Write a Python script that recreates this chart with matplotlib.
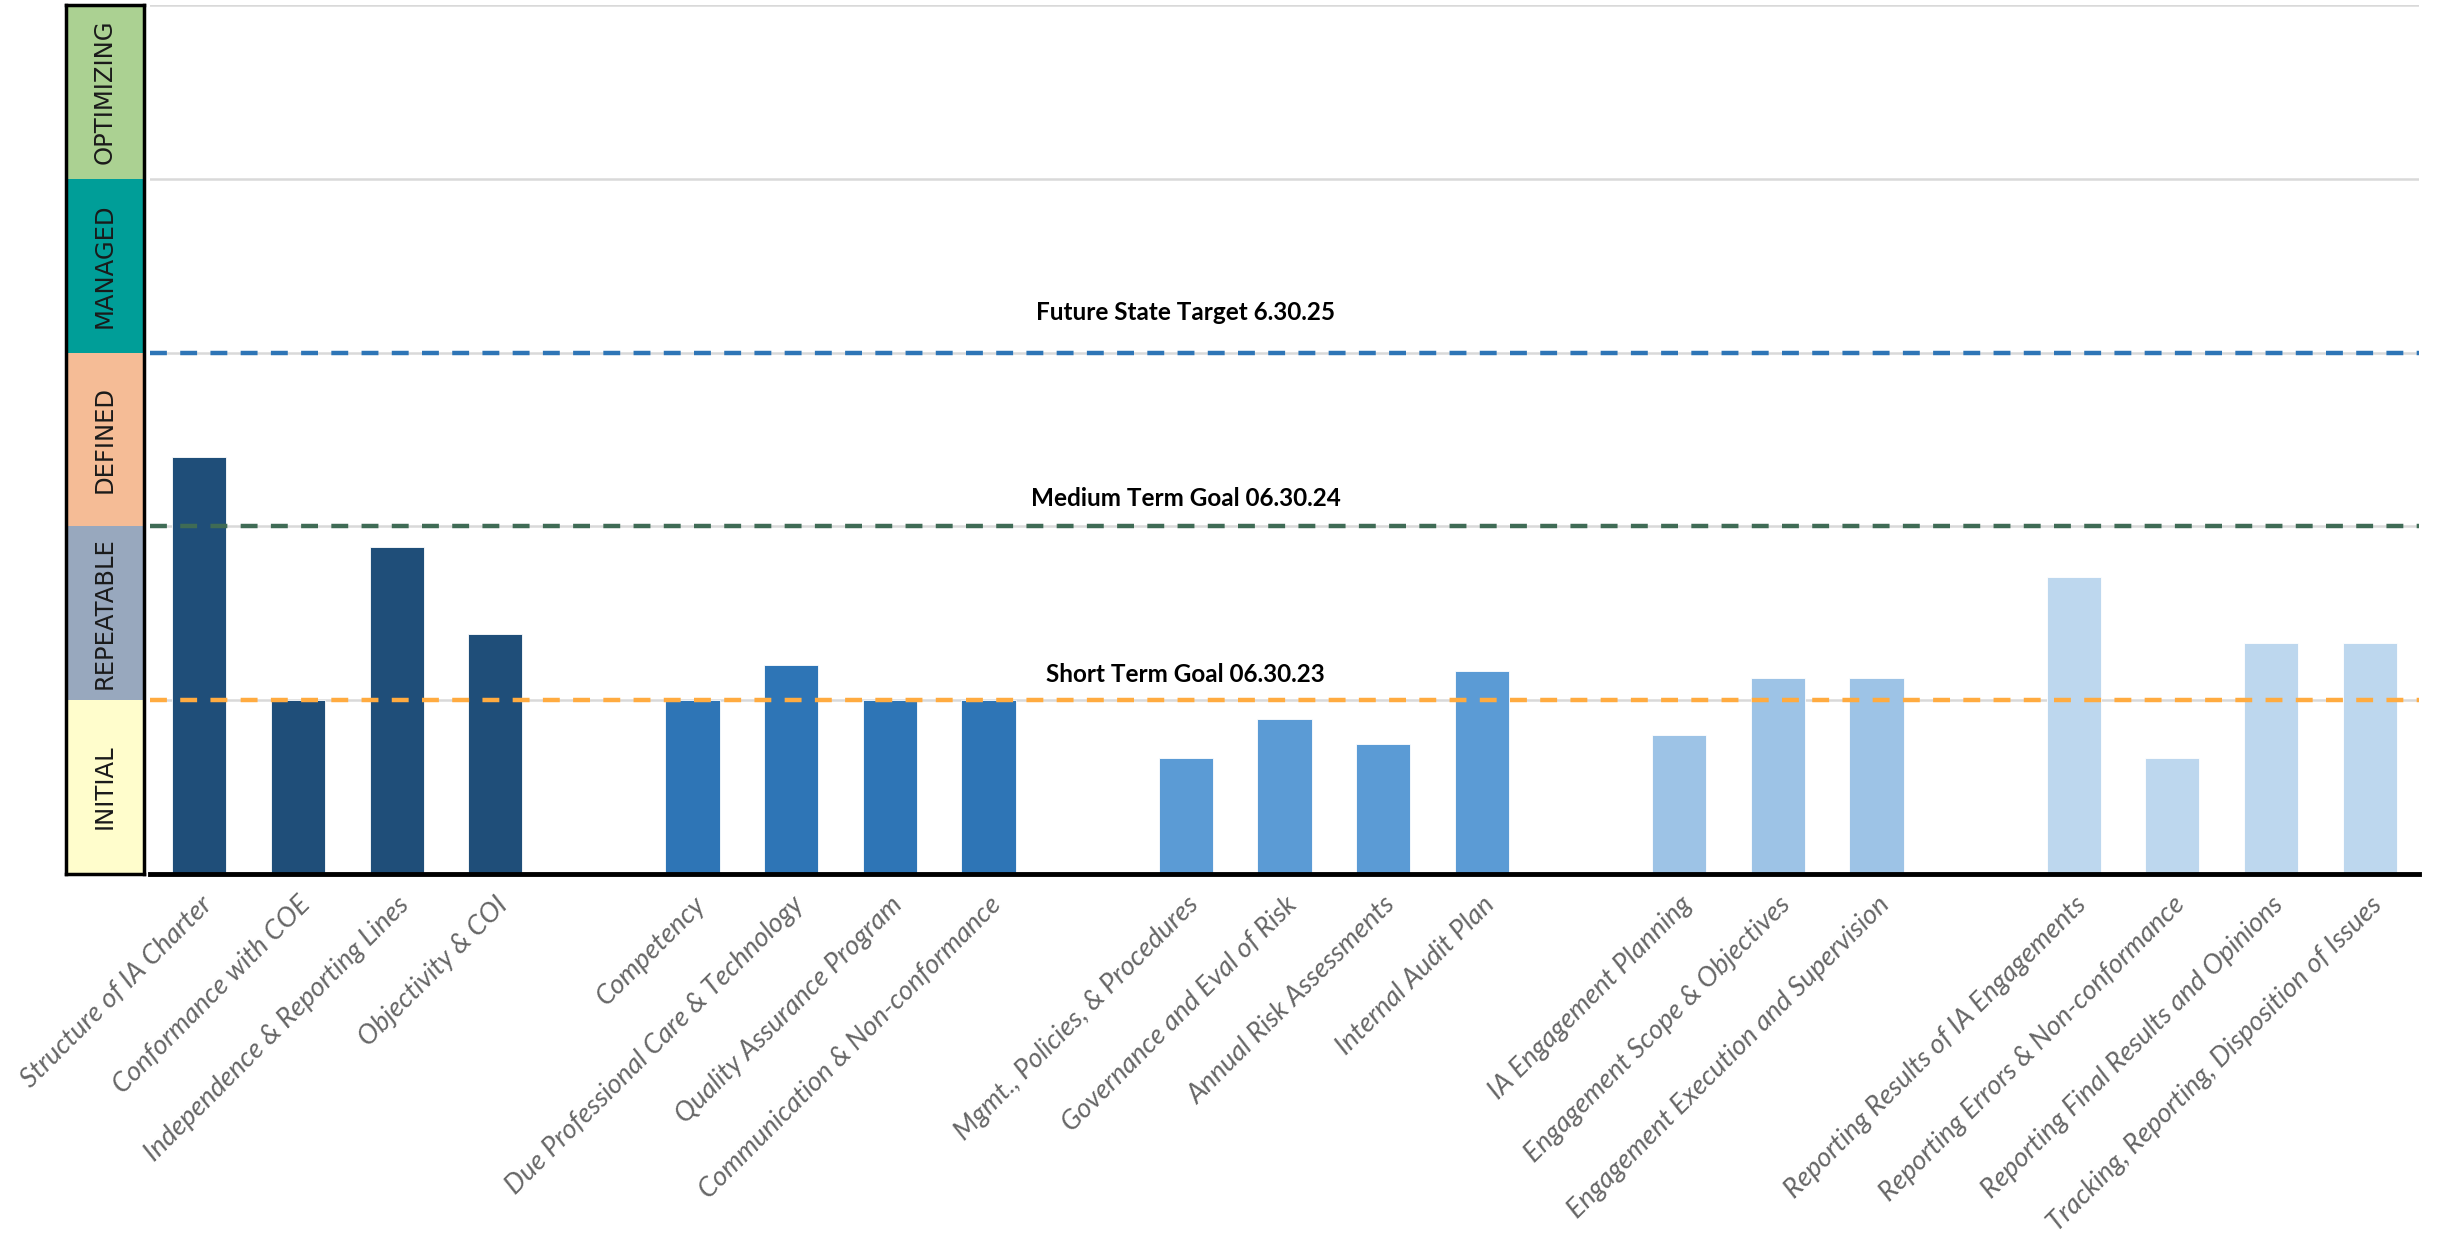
import matplotlib
matplotlib.use("Agg")
import matplotlib.pyplot as plt
import numpy as np

# maturity scores per standard
labels = ["Structure of IA Charter", "Conformance with COE", "Independence & Reporting Lines",
          "Objectivity & COI",
          "Competency", "Due Professional Care & Technology", "Quality Assurance Program",
          "Communication & Non-conformance",
          "Mgmt., Policies, & Procedures", "Governance and Eval of Risk", "Annual Risk Assessments",
          "Internal Audit Plan",
          "IA Engagement Planning", "Engagement Scope & Objectives",
          "Engagement Execution and Supervision",
          "Reporting Results of IA Engagements", "Reporting Errors & Non-conformance",
          "Reporting Final Results and Opinions", "Tracking, Reporting, Disposition of Issues"]
scores = [2.40, 1.00, 1.88, 1.38,
          1.00, 1.20, 1.00, 1.00,
          0.67, 0.89, 0.75, 1.17,
          0.80, 1.13, 1.13,
          1.71, 0.67, 1.33, 1.33]
group_sizes = [4, 4, 4, 3, 4]
group_colors = ["#1F4E79", "#2E75B6", "#5B9BD5", "#9DC3E6", "#BDD7EE"]

levels = ["INITIAL", "REPEATABLE", "DEFINED", "MANAGED", "OPTIMIZING"]
level_colors = ["#FFFDCC", "#98A8BE", "#F5BC96", "#009E98", "#ABD192"]

goal_names = ["Short Term Goal 06.30.23", "Medium Term Goal 06.30.24", "Future State Target 6.30.25"]
goal_values = [1, 2, 3]
goal_colors = ["#FFAB40", "#3F6B55", "#2E75B6"]
label_offsets = [0.15, 0.16, 0.23]

# x positions: one empty slot between groups
xs, cols = [], []
pos = 0
for g, n in enumerate(group_sizes):
    for i in range(n):
        xs.append(pos)
        cols.append(group_colors[g])
        pos += 1
    pos += 1
xs = np.array(xs)

fig = plt.figure(figsize=(24.47, 12.39), dpi=100)
bottom, top = 1 - 874 / 1239, 1 - 5 / 1239
ax = fig.add_axes([150 / 2447, bottom, (2419 - 150) / 2447, top - bottom])
band = fig.add_axes([66 / 2447, bottom, (144 - 66) / 2447, top - bottom])

# maturity band on the left
for i, (lv, c) in enumerate(zip(levels, level_colors)):
    band.bar(0, 1, bottom=i, width=1, color=c, edgecolor="none")
    band.text(0, i + 0.5, lv, rotation=90, ha="center", va="center", fontsize=17.5,
              family=["Liberation Sans Narrow", "DejaVu Sans"], color="#1a1a1a")
band.set_xlim(-0.5, 0.5)
band.set_ylim(0, 5)
band.set_xticks([])
band.set_yticks([])
for s in band.spines.values():
    s.set_linewidth(2.5)
    s.set_color("black")

# main bars
ax.bar(xs, scores, width=0.55, color=cols, zorder=3, edgecolor="white", linewidth=0.6)
for yv in [1, 2, 3, 4, 5]:
    ax.axhline(yv, color="#D9D9D9", lw=1.8, zorder=1)
for name, v, c, off in zip(goal_names, goal_values, goal_colors, label_offsets):
    ax.axhline(v, color=c, lw=3.2, ls=(0, (3.8, 3.0)), zorder=4)
    ax.text(10, v + off, name, ha="center", va="center", fontsize=17.5,
            fontweight="bold", family=["Lato", "DejaVu Sans"], zorder=5)

ax.set_xlim(-0.5, 22.5)
ax.set_ylim(0, 5)
ax.set_yticks([])
ax.set_xticks(xs)
ax.set_xticklabels(labels, rotation=45, ha="right", rotation_mode="anchor",
                   fontsize=19.5, color="#666666", style="italic",
                   family=["Lato", "DejaVu Sans"])
ax.tick_params(axis="x", length=0, pad=13)
for s in ["top", "right", "left"]:
    ax.spines[s].set_visible(False)
ax.spines["bottom"].set_linewidth(3.5)
ax.spines["bottom"].set_zorder(6)

fig.savefig("out.png", dpi=100)
